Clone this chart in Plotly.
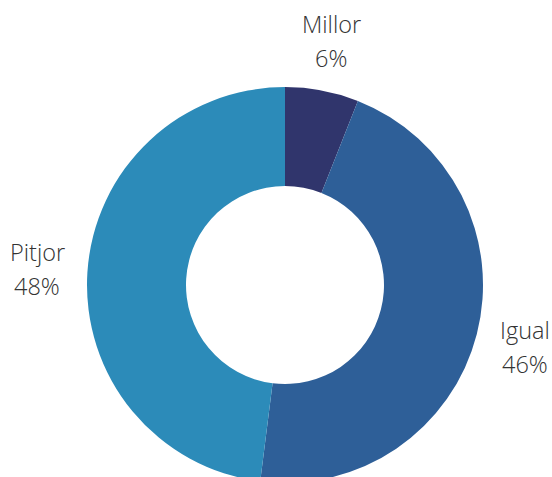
import math
import plotly.graph_objects as go

labels = ["Millor", "Igual", "Pitjor"]
values = [6, 46, 48]
colors = ["#30356c", "#2e5f98", "#2c8bb9"]

W, H = 552, 490
# pie geometry in figure pixels (ring runs past the bottom of the window)
cx, cy, r_out = 285, 285, 198
label_r = 248
font = dict(family="Open Sans", size=23.5, color="#333333", weight=300)

fig = go.Figure(go.Pie(
    labels=labels,
    values=values,
    hole=0.5,
    sort=False,
    direction="clockwise",
    rotation=0,
    marker=dict(colors=colors, line=dict(width=0)),
    textinfo="none",
    hoverinfo="label+percent",
    domain=dict(x=[(cx - r_out) / W, (cx + r_out) / W],
                y=[(H - cy - r_out) / H, (H - cy + r_out) / H]),
    showlegend=False,
))

total = sum(values)
cum = 0
for lab, v in zip(labels, values):
    theta = 2 * math.pi * (cum + v / 2) / total
    cum += v
    px = cx + label_r * math.sin(theta)
    py = cy - label_r * math.cos(theta)
    for txt, shift in ((lab, 17), (f"{round(100 * v / total)}%", -17)):
        fig.add_annotation(
            x=px / W, y=1 - py / H, xref="paper", yref="paper",
            text=txt, showarrow=False, xanchor="center", yanchor="middle",
            yshift=shift, font=font,
        )

fig.update_layout(
    width=W, height=H,
    margin=dict(l=0, r=0, t=0, b=0),
    paper_bgcolor="white",
    plot_bgcolor="white",
)
fig.write_html(
    "out.html",
    config={"displayModeBar": False},
    post_script="document.body.style.margin='0';"
                "document.body.style.overflow='hidden';"
                "document.documentElement.style.overflow='hidden';",
)
